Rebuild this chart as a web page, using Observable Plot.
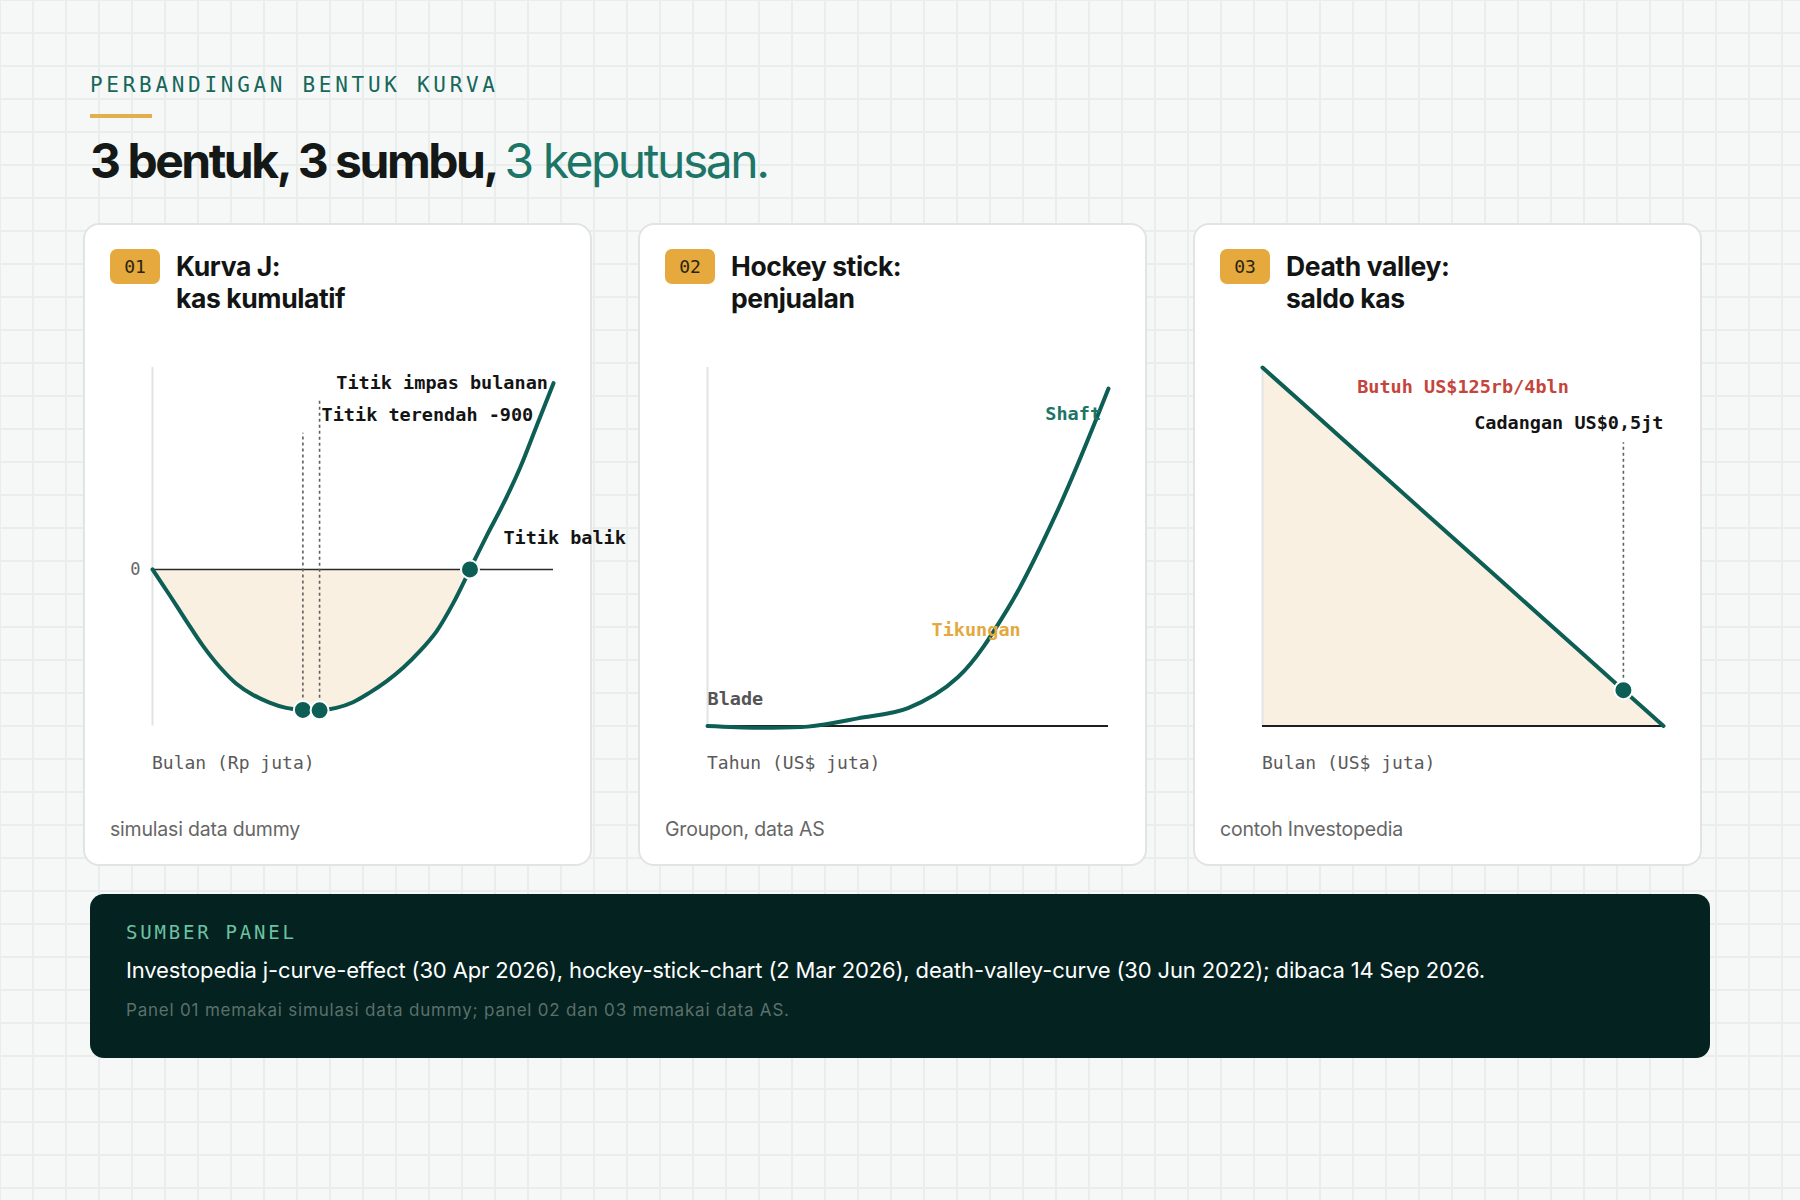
<!DOCTYPE html>
<html>
<head>
<meta charset="utf-8">
<script src="https://cdn.jsdelivr.net/npm/d3@7"></script>
<script src="https://cdn.jsdelivr.net/npm/@observablehq/plot@0.6"></script>
<style>
  html, body { margin: 0; padding: 0; }
  body {
    width: 1800px; height: 1200px; position: relative; overflow: hidden;
    background-color: #F5F8F7;
    background-image:
      linear-gradient(to right, #E9EDEC 2px, transparent 2px),
      linear-gradient(to bottom, #E9EDEC 2px, transparent 2px);
    background-size: 33px 33px;
    background-position: -1px -1px;
    font-family: Inter, "Noto Sans", sans-serif;
  }
  .abs { position: absolute; white-space: nowrap; }
  .eyebrow { left: 90px; top: 73px; font-family: "DejaVu Sans Mono", monospace; font-size: 21px; line-height: 24px; color: #17675B; }
  .rule { left: 90px; top: 114px; width: 62px; height: 4px; background: #E3AE4E; }
  .title { left: 90px; top: 133px; font-size: 48px; line-height: 56px; font-weight: 700; color: #141816; }
  .title .accent { font-weight: 400; color: #1C7566; }
  .card { top: 223px; width: 509px; height: 643px; background: #fff; border: 2px solid #E1E4E3; border-radius: 16px; box-sizing: border-box; }
  .badge { width: 50px; height: 35px; border-radius: 7px; background: #E5A93D; color: #2B2412; font-family: "DejaVu Sans Mono", monospace; font-size: 18px; line-height: 35px; text-align: center; }
  .ctitle { font-size: 26.5px; line-height: 32px; font-weight: 700; color: #121514; letter-spacing: -0.4px; }
  .axtitle { font-family: "DejaVu Sans Mono", monospace; font-size: 18px; line-height: 22px; color: #5A5A5A; }
  .caption { font-size: 19.5px; line-height: 22px; color: #666; letter-spacing: -0.2px; }
  .chart svg { overflow: visible; }
  .src { left: 90px; top: 894px; width: 1620px; height: 164px; background: #04221F; border-radius: 14px; }
  .srclabel { left: 126px; top: 920px; font-family: "DejaVu Sans Mono", monospace; font-size: 19px; line-height: 24px; color: #6CC2A3; }
  .srcmain { left: 126px; top: 956px; font-size: 22px; line-height: 28px; color: #FFFFFF; }
  .srcnote { left: 126px; top: 999px; font-size: 17px; line-height: 22px; color: #5B706B; }
</style>
</head>
<body>
<script>
// ---------------- DATA ----------------
// Panel 01: Kurva J, kas kumulatif (simulasi data dummy), Rp juta per bulan
const jMonths = [0, 1, 2, 3, 4, 5, 6, 7, 8, 9, 10, 11, 12, 13, 14, 15, 16, 17, 18, 19, 20, 21, 22, 23, 24];
const jCash   = [0, -160, -325, -485, -620, -728, -800, -850, -884, -897, -900, -884, -848, -787, -715, -628, -522, -395, -215, 0, 215, 420, 650, 920, 1190];
const jKeyMonths = [9, 10, 19];          // titik impas bulanan, titik terendah, titik balik
const jGuideMonths = [9, 10];
const jGuideTops = [870, 1094];

// Panel 02: Hockey stick, penjualan (US$ juta)
const hsYears = [0, 1, 2, 3, 4, 5, 6, 7, 8];
const hsSales = [0, -8, -3, 36, 85, 232, 560, 1030, 1600];

// Panel 03: Death valley, saldo kas (US$ juta)
const dvMonths = [0, 4, 8, 12, 16, 20, 24, 28, 32, 36, 40];
const dvCash   = [5, 4.5, 4, 3.5, 3, 2.5, 2, 1.5, 1, 0.5, 0];
const dvReserveMonth = 36;
const dvGuideTop = 3.95;

// Text
const panelNums = ["01", "02", "03"];
const panelTitles = [["Kurva J:", "kas kumulatif"], ["Hockey stick:", "penjualan"], ["Death valley:", "saldo kas"]];
const axisTitles = ["Bulan (Rp juta)", "Tahun (US$ juta)", "Bulan (US$ juta)"];
const captions = ["simulasi data dummy", "Groupon, data AS", "contoh Investopedia"];

// ---------------- STYLE ----------------
const TEAL = "#0D5E54", FILL = "#FAF0E1", INK = "#141414", MONO = "DejaVu Sans Mono";
const lefts = [83, 638, 1193];

function el(cls, left, top, text) {
  const d = document.createElement("div");
  d.className = "abs " + cls;
  if (left != null) d.style.left = left + "px";
  if (top != null) d.style.top = top + "px";
  if (text != null) d.textContent = text;
  document.body.appendChild(d);
  return d;
}
function fit(node, target) {
  node.style.letterSpacing = "0px";
  const w = node.getBoundingClientRect().width;
  const n = node.textContent.length;
  node.style.letterSpacing = ((target - w) / (n - 1)) + "px";
}

// Header
const eb = el("eyebrow", null, null, "PERBANDINGAN BENTUK KURVA");
el("rule");
const tt = el("title");
tt.innerHTML = '3 bentuk, 3 sumbu, <span class="accent">3 keputusan.</span>';

// Cards
lefts.forEach((L, i) => {
  el("card", L, null);
  el("badge", L + 27, 249, panelNums[i]);
  const t = el("ctitle", L + 93, 250);
  t.innerHTML = panelTitles[i][0] + "<br>" + panelTitles[i][1];
  el("axtitle", L + 69, 752, axisTitles[i]);
  el("caption", L + 27, 818, captions[i]);
});

const common = {
  width: 509, height: 450,
  marginLeft: 69, marginRight: 39, marginTop: 27, marginBottom: 64.5,
  style: { background: "transparent", overflow: "visible", fontFamily: MONO }
};
const lbl = { fontFamily: MONO, fontSize: 18.5, fontWeight: "bold", textAnchor: "start", lineAnchor: "middle" };
const dotStyle = { r: 9, fill: TEAL, stroke: "white", strokeWidth: 2 };
const LW = 4;

// Panel 01
const jData = jMonths.map((m, i) => ({ m, v: jCash[i] }));
const jKeys = jKeyMonths.map(m => ({ m, v: jCash[jMonths.indexOf(m)] }));
const jGuides = jGuideMonths.map((m, i) => ({ m, v: jCash[jMonths.indexOf(m)], top: jGuideTops[i] }));
const jMin = d3.min(jCash);
const p1 = Plot.plot({
  ...common,
  x: { domain: [0, 24], axis: null },
  y: { domain: [-1000, 1290], axis: null },
  marks: [
    Plot.areaY(jData, { x: "m", y1: 0, y2: d => Math.min(d.v, 0), fill: FILL, curve: "catmull-rom" }),
    Plot.ruleX([0], { stroke: "#E1E4E3", strokeWidth: 2 }),
    Plot.ruleY([0], { stroke: "#2A2A2A", strokeWidth: 1.6 }),
    Plot.ruleX(jGuides, { x: "m", y1: "v", y2: "top", stroke: "#606060", strokeWidth: 1.6, strokeDasharray: "3,3" }),
    Plot.line(jData, { x: "m", y: "v", stroke: TEAL, strokeWidth: LW, curve: "catmull-rom" }),
    Plot.dot(jKeys, { x: "m", y: "v", ...dotStyle }),
    Plot.text(["Titik impas bulanan"], { ...lbl, x: 11, y: 1190, fill: INK }),
    Plot.text([`Titik terendah ${jMin}`], { ...lbl, x: 10, dx: 2, y: 987, fill: INK }),
    Plot.text(["Titik balik"], { ...lbl, x: 21, y: 198, fill: INK }),
    Plot.text(["0"], { x: 0, y: 0, dx: -12, textAnchor: "end", fontFamily: MONO, fontSize: 17, fill: "#666" })
  ]
});

// Panel 02
const hsData = hsYears.map((t, i) => ({ t, v: hsSales[i] }));
const p2 = Plot.plot({
  ...common,
  x: { domain: [0, 8], axis: null },
  y: { domain: [0, 1700], axis: null },
  marks: [
    Plot.ruleX([0], { stroke: "#E1E4E3", strokeWidth: 2 }),
    Plot.ruleY([0], { stroke: "#1E1E1E", strokeWidth: 2 }),
    Plot.line(hsData, { x: "t", y: "v", stroke: TEAL, strokeWidth: LW, curve: "catmull-rom" }),
    Plot.text(["Blade"], { ...lbl, x: 0, y: 130, fill: "#555" }),
    Plot.text(["Tikungan"], { ...lbl, x: 4.47, y: 457, fill: "#E3A93E" }),
    Plot.text(["Shaft"], { ...lbl, x: 6.74, y: 1480, fill: "#1C7566" })
  ]
});

// Panel 03
const dvData = dvMonths.map((m, i) => ({ m, v: dvCash[i] }));
const dvReserve = dvData.filter(d => d.m === dvReserveMonth);
const p3 = Plot.plot({
  ...common,
  x: { domain: [0, 40], axis: null },
  y: { domain: [0, 5], axis: null },
  marks: [
    Plot.areaY(dvData, { x: "m", y: "v", fill: FILL }),
    Plot.ruleX([0], { stroke: "#E1E4E3", strokeWidth: 2 }),
    Plot.ruleY([0], { stroke: "#1E1E1E", strokeWidth: 2 }),
    Plot.ruleX(dvReserve, { x: "m", y1: "v", y2: () => dvGuideTop, stroke: "#606060", strokeWidth: 1.6, strokeDasharray: "3,3" }),
    Plot.line(dvData, { x: "m", y: "v", stroke: TEAL, strokeWidth: LW }),
    Plot.dot(dvReserve, { x: "m", y: "v", ...dotStyle }),
    Plot.text(["Butuh US$125rb/4bln"], { ...lbl, x: 20, y: 4.72, textAnchor: "middle", fill: "#C4453C" }),
    Plot.text(["Cadangan US$0,5jt"], { ...lbl, x: 40, y: 4.23, textAnchor: "end", fill: INK })
  ]
});

[p1, p2, p3].forEach((p, i) => {
  const d = el("chart", lefts[i], 340);
  d.appendChild(p);
});

// Sources panel
el("src");
const sl = el("srclabel", null, null, "SUMBER PANEL");
const sm = el("srcmain", null, null, "Investopedia j-curve-effect (30 Apr 2026), hockey-stick-chart (2 Mar 2026), death-valley-curve (30 Jun 2022); dibaca 14 Sep 2026.");
const sn = el("srcnote", null, null, "Panel 01 memakai simulasi data dummy; panel 02 dan 03 memakai data AS.");

fit(eb, 405);
fit(tt, 680);
fit(sl, 168);
fit(sm, 1359);
fit(sn, 663);
</script>
</body>
</html>
